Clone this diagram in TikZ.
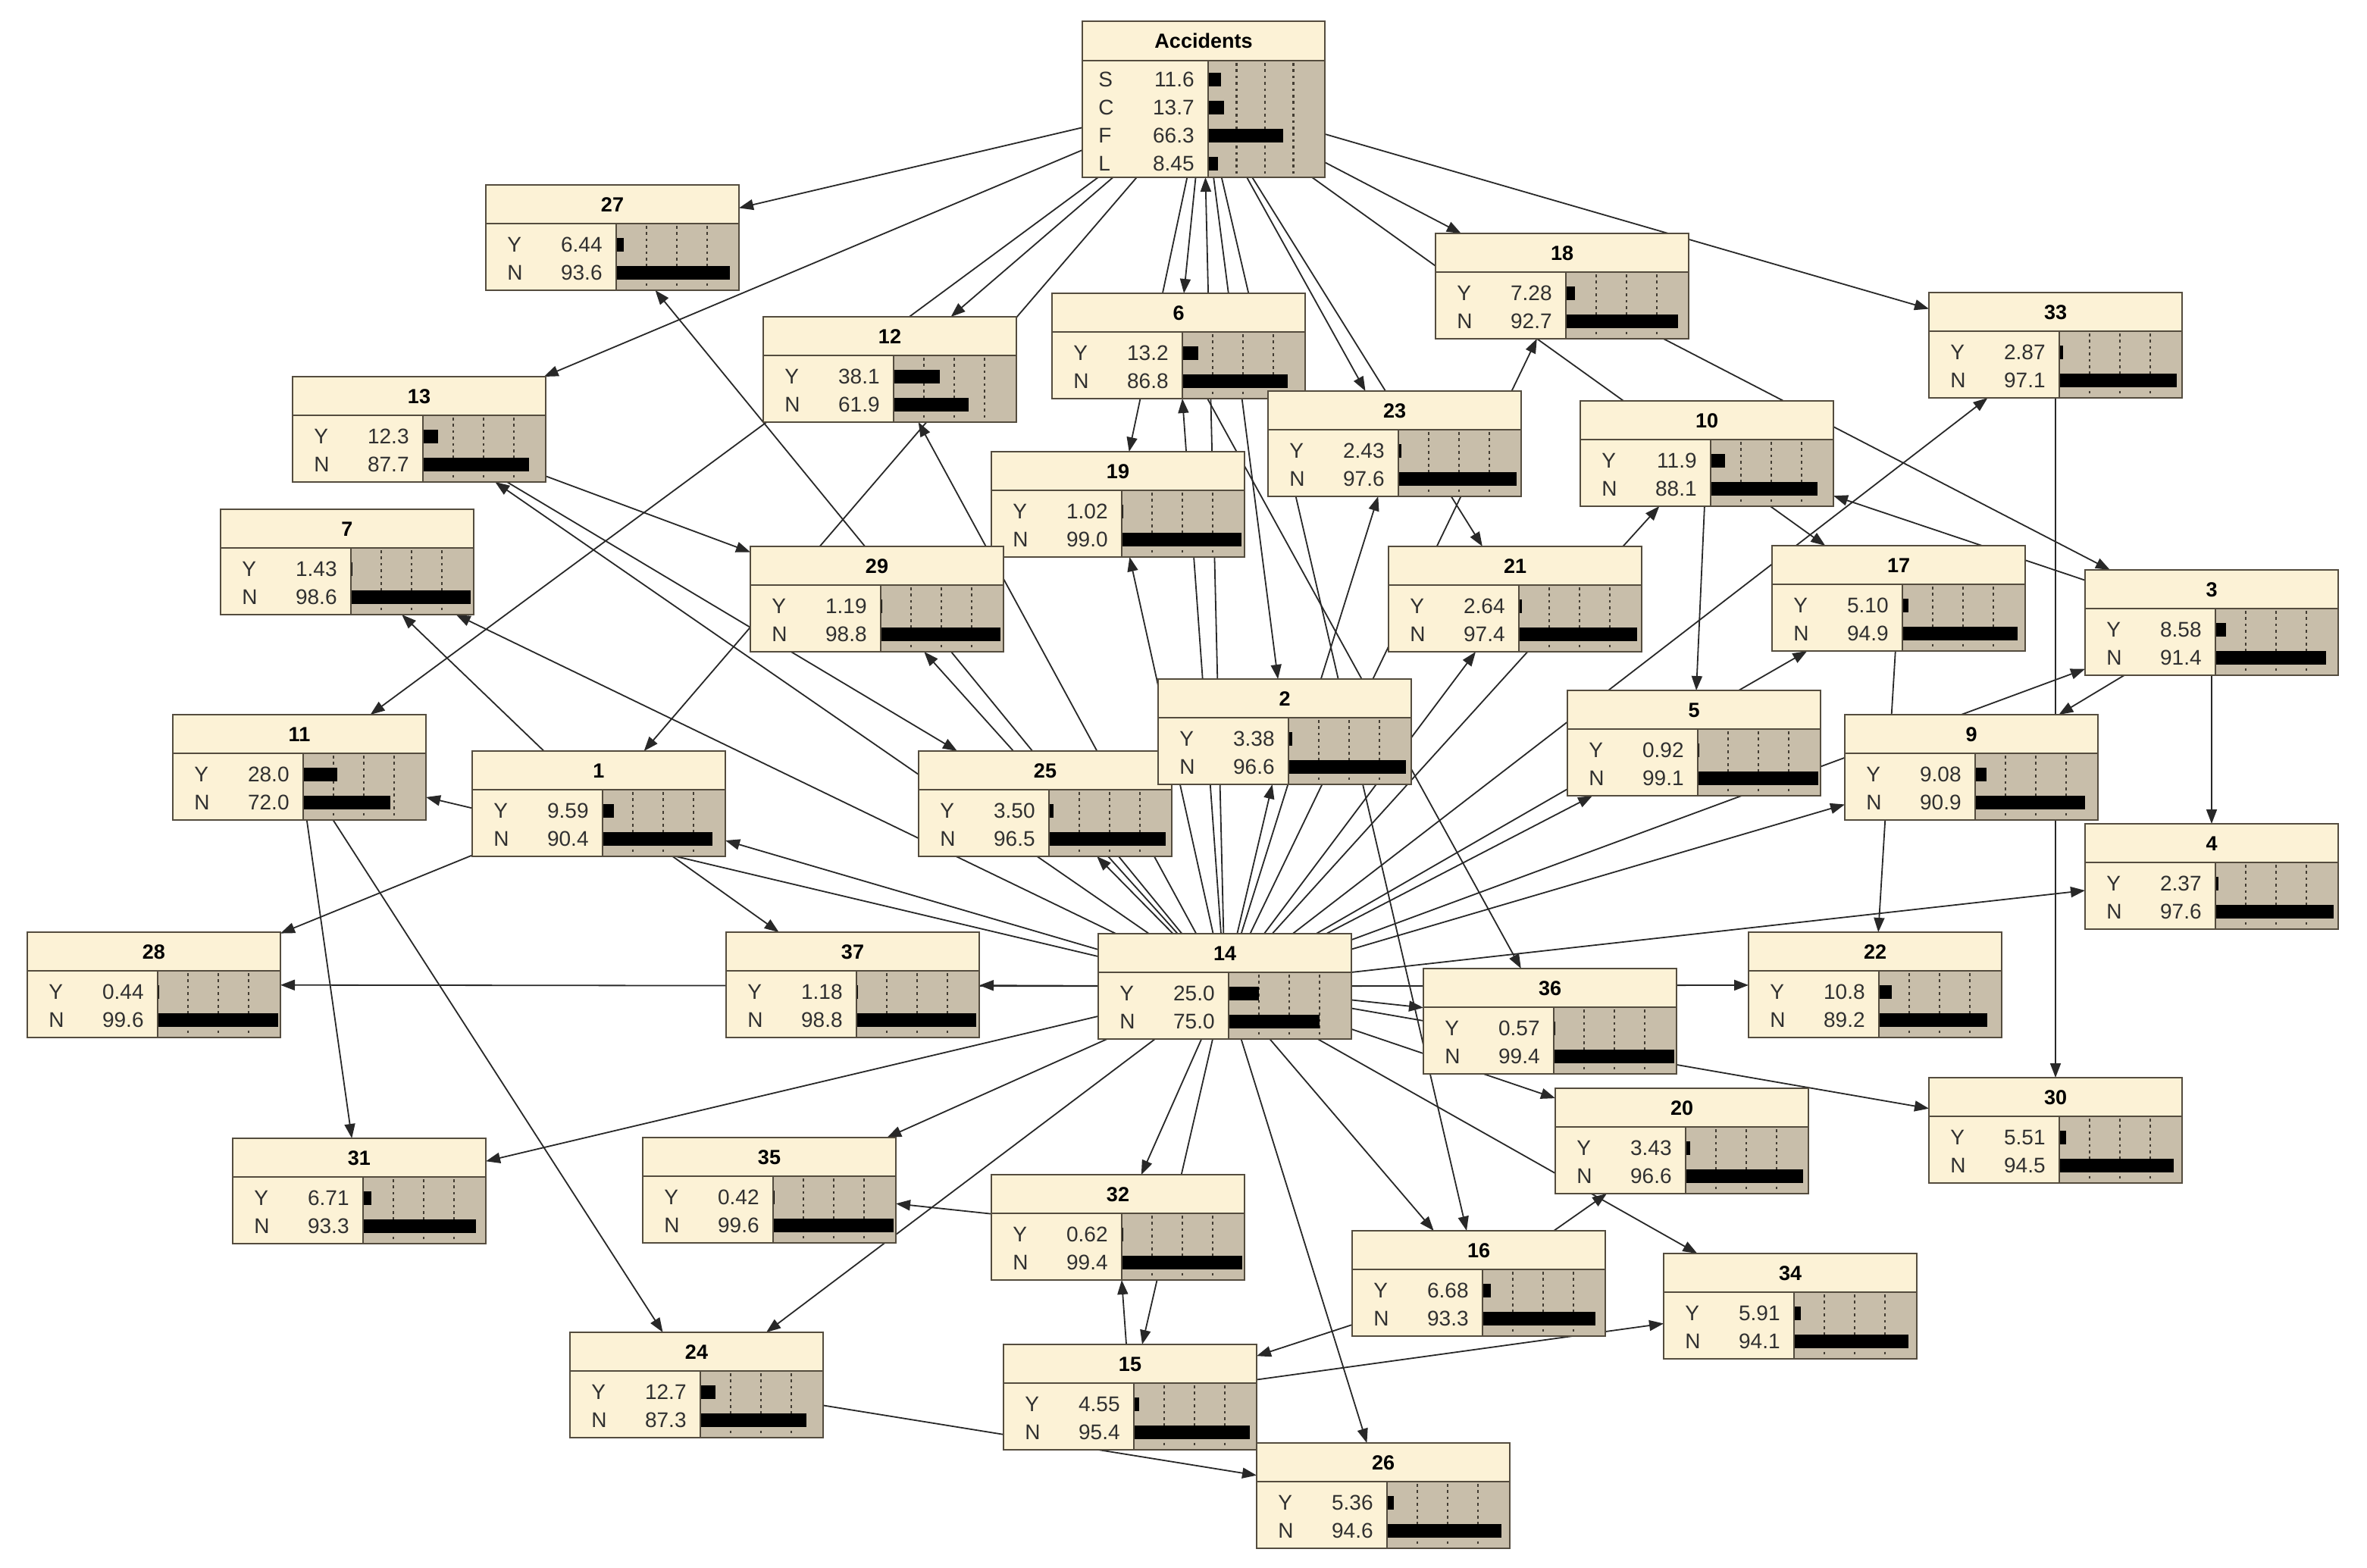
\documentclass[tikz,border=0pt]{standalone}
\usepackage{fontspec}
\setmainfont{Liberation Sans}
\usetikzlibrary{arrows.meta}
\definecolor{boxcream}{RGB}{252,242,214}
\definecolor{barshade}{RGB}{200,190,170}
\definecolor{boxedge}{RGB}{84,76,62}
\definecolor{markgray}{RGB}{66,60,50}
\definecolor{linkgray}{RGB}{40,40,40}
\definecolor{rowgray}{RGB}{48,48,48}
\pgfdeclarelayer{links}
\pgfsetlayers{links,main}

\newcommand{\probnode}[6]{%
	\node[netbox] (#1) at (#2,#3) {};
	\begin{scope}[shift={(#2,#3)}]
		\fill[barshade] (86,25.5) rectangle (167,69.5);
		\foreach \gx in {20,40,60}
			\draw[gridmark] (86+\gx,27) -- (86+\gx,68.5);
		\fill (86,35) rectangle ++({max(0.8*#5,1.2)},9);
		\fill (86,53.5) rectangle ++({max(0.8*#6,1.2)},9);
		\draw[boxedge, line width=1.3pt] (0,25.5) -- (167,25.5);
		\draw[boxedge, line width=0.9pt] (86,25.5) -- (86,69.5);
		\node[titlefont] at (83.5,13) {#4};
		\node[rowfont, anchor=west] at (14,39.5) {Y};
		\node[rowfont, anchor=east] at (77,39.5) {#5};
		\node[rowfont, anchor=west] at (14,58) {N};
		\node[rowfont, anchor=east] at (77,58) {#6};
	\end{scope}
	\draw[boxedge, line width=0.9pt] (#1.north west) rectangle (#1.south east);
}

\begin{document}
\begin{tikzpicture}[x=1pt, y=-1pt,
		netbox/.style={rectangle, fill=boxcream, minimum width=167pt, minimum height=69.5pt, inner sep=0pt, outer sep=0pt, anchor=north west},
		gridmark/.style={markgray, line width=1.2pt, dash pattern=on 1.8pt off 2.4pt},
		titlefont/.style={inner sep=0pt, font=\fontsize{13.5}{14}\selectfont\bfseries},
		rowfont/.style={inner sep=0pt, text=rowgray, font=\fontsize{14}{15}\selectfont},
		link/.style={linkgray, line width=0.9pt, -{Triangle[length=9.5pt,width=7pt]}}]
	\useasboundingbox (0,0) rectangle (1561.5,1034);

	\node[netbox, minimum width=160pt, minimum height=103pt] (acc) at (714,14) {};
	\begin{scope}[shift={(714,14)}]
		\fill[barshade] (83,26) rectangle (160,103);
		\foreach \gx in {18.75,37.5,56.25}
			\draw[gridmark] (83+\gx,27.5) -- (83+\gx,102);
		\foreach \lab/\val/\yy in {S/11.6/38.5, C/13.7/57, F/66.3/75.5, L/8.45/94} {
			\fill (83,\yy-4.5) rectangle ++({0.75*\val},9);
			\node[rowfont, anchor=west] at (10.5,\yy) {\lab};
			\node[rowfont, anchor=east] at (74,\yy) {\val};
		}
		\draw[boxedge, line width=1.3pt] (0,26) -- (160,26);
		\draw[boxedge, line width=0.9pt] (83,26) -- (83,103);
		\node[titlefont] at (80,13) {Accidents};
	\end{scope}
	\draw[boxedge, line width=0.9pt] (acc.north west) rectangle (acc.south east);

	\probnode{n27}{320.5}{122}{27}{6.44}{93.6}
	\probnode{n13}{193}{248.5}{13}{12.3}{87.7}
	\probnode{n7}{145.5}{336}{7}{1.43}{98.6}
	\probnode{n12}{503.5}{209}{12}{38.1}{61.9}
	\probnode{n6}{694}{193.5}{6}{13.2}{86.8}
	\probnode{n18}{947}{154}{18}{7.28}{92.7}
	\probnode{n33}{1272.5}{193}{33}{2.87}{97.1}
	\probnode{n23}{836.5}{258}{23}{2.43}{97.6}
	\probnode{n10}{1042.5}{264.5}{10}{11.9}{88.1}
	\probnode{n19}{654}{298}{19}{1.02}{99.0}
	\probnode{n29}{495}{360.5}{29}{1.19}{98.8}
	\probnode{n21}{916}{360.5}{21}{2.64}{97.4}
	\probnode{n17}{1169}{360}{17}{5.10}{94.9}
	\probnode{n3}{1375.5}{376}{3}{8.58}{91.4}
	\probnode{n11}{114}{471.5}{11}{28.0}{72.0}
	\probnode{n1}{311.5}{495.5}{1}{9.59}{90.4}
	\probnode{n25}{606}{495.5}{25}{3.50}{96.5}
	\probnode{n2}{764}{448}{2}{3.38}{96.6}
	\probnode{n5}{1034}{455.5}{5}{0.92}{99.1}
	\probnode{n9}{1217}{471.5}{9}{9.08}{90.9}
	\probnode{n4}{1375.5}{543.5}{4}{2.37}{97.6}
	\probnode{n28}{18}{615}{28}{0.44}{99.6}
	\probnode{n37}{479}{615}{37}{1.18}{98.8}
	\probnode{n14}{724.5}{616}{14}{25.0}{75.0}
	\probnode{n36}{939}{639}{36}{0.57}{99.4}
	\probnode{n22}{1153.5}{615}{22}{10.8}{89.2}
	\probnode{n30}{1272.5}{711}{30}{5.51}{94.5}
	\probnode{n20}{1026}{718}{20}{3.43}{96.6}
	\probnode{n31}{153.5}{751}{31}{6.71}{93.3}
	\probnode{n35}{424}{750.5}{35}{0.42}{99.6}
	\probnode{n32}{654}{775}{32}{0.62}{99.4}
	\probnode{n16}{892}{812}{16}{6.68}{93.3}
	\probnode{n34}{1097.5}{827}{34}{5.91}{94.1}
	\probnode{n24}{376}{879}{24}{12.7}{87.3}
	\probnode{n15}{662}{887}{15}{4.55}{95.4}
	\probnode{n26}{829}{952}{26}{5.36}{94.6}

	\begin{pgfonlayer}{links}
		\fill[white] (0,0) rectangle (1561.5,1034);
		\foreach \from/\to in {acc/n27, acc/n13, acc/n11, acc/n12, acc/n1, acc/n6, acc/n19, acc/n2, acc/n16, acc/n23, acc/n21, acc/n17, acc/n18, acc/n33,
				n14/acc, n14/n6, n14/n19, n14/n12, n14/n27, n14/n29, n14/n13, n14/n7, n14/n11, n14/n1, n14/n37, n14/n28, n14/n25, n14/n2, n14/n23, n14/n21, n14/n10, n14/n18,
				n14/n33, n14/n17, n14/n5, n14/n3, n14/n9, n14/n4, n14/n22, n14/n36, n14/n30, n14/n20, n14/n34, n14/n16, n14/n26, n14/n15, n14/n32, n14/n24, n14/n35, n14/n31,
				n13/n29, n13/n25, n1/n7, n1/n28, n1/n37, n11/n31, n11/n24, n18/n3, n3/n10, n3/n9, n3/n4, n10/n5, n33/n30, n17/n22, n6/n36,
				n16/n20, n16/n15, n15/n32, n32/n35, n15/n34, n24/n26}
			\draw[link] (\from) -- (\to);
	\end{pgfonlayer}
\end{tikzpicture}
\end{document}
